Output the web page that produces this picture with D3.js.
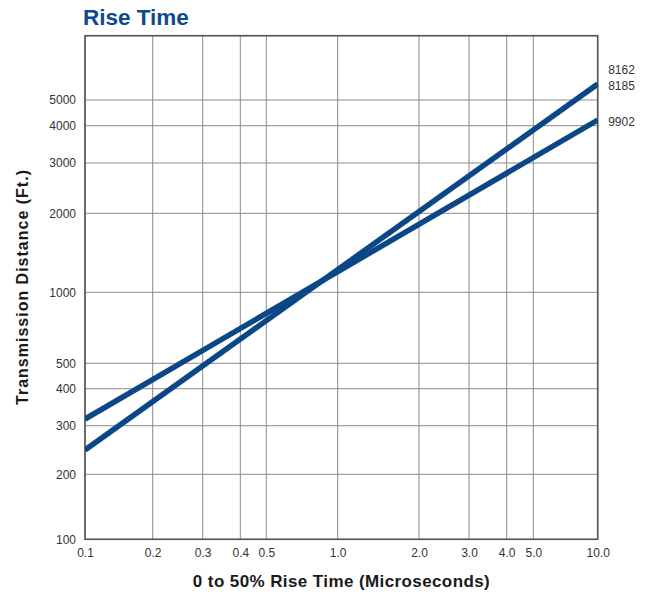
<html>
	<head>
		<meta content="text/html;charset=utf-8" http-equiv="Content-Type">
		<script src="https://d3js.org/d3.v7.min.js"></script>
		<style>
		body { margin: 0; background: #fff; }
		text { font-family: "Liberation Sans", Arial, sans-serif; }
		</style>
	</head>
	<body>
		<svg id="chart"></svg>
		<script>

	// tick values + labels
	var xTicks = [0.1, 0.2, 0.3, 0.4, 0.5, 1, 2, 3, 4, 5, 10];
	var xTickLabels = ["0.1", "0.2", "0.3", "0.4", "0.5", "1.0", "2.0", "3.0", "4.0", "5.0", "10.0"];
	var yTicks = [100, 200, 300, 400, 500, 1000, 2000, 3000, 4000, 5000, 10000];
	var yTickLabels = ["100", "200", "300", "400", "500", "1000", "2000", "3000", "4000", "5000", ""];

	// series (rise time us -> distance ft)
	var seriesNames = [["8162", "8185"], ["9902"]];
	var riseTimes = [0.1, 10];
	var distA = [245, 5940];
	var distB = [316, 4200];

	draw();

	function draw(){
		var svg = d3.select("#chart").attr("width", 646).attr("height", 597);
		var left = 85, right = 597.7, top = 35.7, bottom = 539.3;

		// the printed grid is not spaced exactly logarithmically, so the log scales are piecewise
		var x = d3.scaleLog().domain(xTicks)
			.range([85, 152.7, 202.7, 240.3, 266.3, 337.7, 419, 469, 506.7, 533.3, 597.7]);
		var y = d3.scaleLog().domain(yTicks)
			.range([539.3, 474.3, 425.7, 388.7, 363.3, 292.3, 213.3, 163, 125.7, 100, 35.7]);

		svg.append("text")
			.attr("x", 83).attr("y", 25)
			.style("font-size", "22.5px").style("font-weight", "bold")
			.style("fill", "#0b4a8c")
			.text("Rise Time");

		// grid
		svg.append("g").selectAll("line").data(xTicks).enter().append("line")
			.attr("x1", function(d){ return x(d); }).attr("x2", function(d){ return x(d); })
			.attr("y1", top).attr("y2", bottom)
			.attr("stroke", "#8c8c8c").attr("stroke-width", 1);
		svg.append("g").selectAll("line").data(yTicks).enter().append("line")
			.attr("y1", function(d){ return y(d); }).attr("y2", function(d){ return y(d); })
			.attr("x1", left).attr("x2", right)
			.attr("stroke", "#8c8c8c").attr("stroke-width", 1);

		// axes labels via d3 axes, no tick lines
		var xAxis = svg.append("g").attr("transform", "translate(0," + bottom + ")")
			.call(d3.axisBottom(x).tickValues(xTicks).tickSize(0).tickPadding(9)
				.tickFormat(function(d, i){ return xTickLabels[i]; }));
		var yAxis = svg.append("g").attr("transform", "translate(" + left + ",0)")
			.call(d3.axisLeft(y).tickValues(yTicks).tickSize(0).tickPadding(9)
				.tickFormat(function(d, i){ return yTickLabels[i]; }));
		[xAxis, yAxis].forEach(function(a){
			a.select(".domain").remove();
			a.selectAll("text").style("font-size", "12px").style("fill", "#333")
				.style("font-family", "'Liberation Sans', Arial, sans-serif");
		});

		svg.append("rect")
			.attr("x", left).attr("y", top)
			.attr("width", right - left).attr("height", bottom - top)
			.attr("fill", "none").attr("stroke", "#555").attr("stroke-width", 1.6);

		svg.append("clipPath").attr("id", "plotclip").append("rect")
			.attr("x", left).attr("y", top).attr("width", right - left).attr("height", bottom - top);

		var line = d3.line()
			.x(function(d){ return x(d[0]); })
			.y(function(d){ return y(d[1]); });
		var series = [distA, distB];
		series.forEach(function(s, k){
			var pts = riseTimes.map(function(t, i){ return [t, s[i]]; });
			svg.append("path").datum(pts)
				.attr("d", line)
				.attr("clip-path", "url(#plotclip)")
				.attr("fill", "none").attr("stroke", "#0b4686")
				.attr("stroke-width", 5.5);

			// end labels
			var endY = y(s[s.length - 1]);
			var names = seriesNames[k];
			names.forEach(function(n, j){
				var off = (names.length - 1 - j) * -16;
				svg.append("text")
					.attr("x", right + 10.5).attr("y", endY + off + 2)
					.attr("dy", "0.35em")
					.style("font-size", "12px").style("fill", "#333")
					.text(n);
			});
		});

		svg.append("text")
			.attr("x", 341.5).attr("y", 587)
			.attr("text-anchor", "middle")
			.style("font-size", "17px").style("font-weight", "bold").style("fill", "#1a1a1a")
			.style("letter-spacing", "0.4px")
			.text("0 to 50% Rise Time (Microseconds)");

		svg.append("text")
			.attr("transform", "translate(28,287) rotate(-90)")
			.attr("text-anchor", "middle")
			.style("font-size", "16px").style("font-weight", "bold").style("fill", "#1a1a1a")
			.style("letter-spacing", "1px")
			.text("Transmission Distance (Ft.)");
	}

		</script>
	</body>
</html>
